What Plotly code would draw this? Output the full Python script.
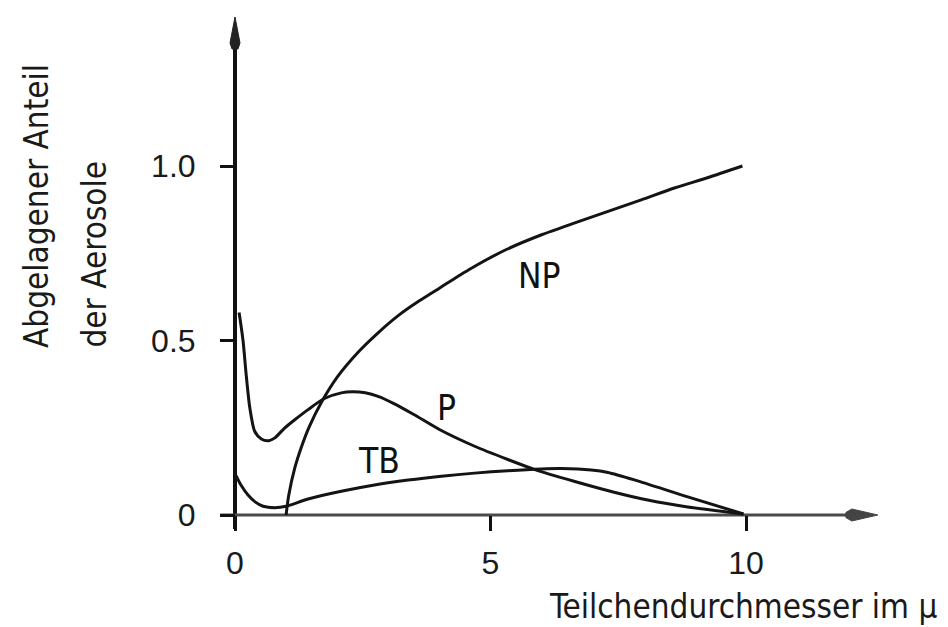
import plotly.graph_objects as go

# ---------------- data ----------------
NP_X = [1.00, 1.05, 1.17, 1.30, 1.45, 1.70, 2.00, 2.40, 2.80, 3.20, 3.60, 4.00, 4.60,
        5.30, 6.00, 6.65, 7.30, 7.95, 8.60, 9.26, 9.93]
NP_Y = [0.000, 0.055, 0.135, 0.195, 0.252, 0.325, 0.395, 0.465, 0.522, 0.572, 0.613,
        0.650, 0.705, 0.760, 0.803, 0.837, 0.870, 0.903, 0.937, 0.967, 1.000]

P_X = [0.08, 0.157, 0.22, 0.29, 0.385, 0.515, 0.66, 0.78, 0.97, 1.17, 1.43, 1.74, 2.08,
       2.30, 2.55, 2.80, 3.10, 3.50, 4.00, 4.69, 5.34, 5.87, 6.65, 7.40, 8.10, 8.86, 9.95]
P_Y = [0.580, 0.500, 0.400, 0.307, 0.240, 0.218, 0.213, 0.221, 0.249, 0.273, 0.302, 0.333,
       0.350, 0.353, 0.350, 0.340, 0.320, 0.288, 0.245, 0.197, 0.159, 0.130, 0.096, 0.066,
       0.042, 0.023, 0.003]

TB_X = [0.02, 0.12, 0.25, 0.40, 0.55, 0.78, 1.00, 1.43, 2.08, 2.73, 3.39, 4.04, 4.69,
        5.34, 5.99, 6.39, 6.97, 7.30, 7.83, 8.86, 9.95]
TB_Y = [0.113, 0.085, 0.058, 0.037, 0.025, 0.021, 0.025, 0.046, 0.068, 0.086, 0.100,
        0.111, 0.120, 0.127, 0.132, 0.133, 0.129, 0.122, 0.100, 0.052, 0.003]

CURVE_LABELS = ["NP", "P", "TB"]
LABEL_X = [5.96, 4.13, 2.82]
LABEL_Y = [0.684, 0.308, 0.156]

X_TICKS = [0, 5, 10]
X_TICKTEXT = ["0", "5", "10"]
Y_TICKS = [0, 0.5, 1.0]
Y_TICKTEXT = ["0", "0.5", "1.0"]

X_TITLE = "Teilchendurchmesser im μ"
Y_TITLE_LINES = ["Abgelagener Anteil", "der Aerosole"]

# axis extents (data units)
X_AXIS_LEFT, X_AXIS_TIP = -0.29, 12.58
Y_AXIS_BOTTOM, Y_AXIS_TIP = -0.04, 1.427

# ---------------- layout geometry ----------------
W, H = 948, 627
ORIGIN_PX = (227.0, 507.0)
PX_PER_X = 51.1
PX_PER_Y = 349.0
ML, MR, MT, MB = 200, 50, 4, 96
PLOT_W = W - ML - MR
PLOT_H = H - MT - MB
XMIN = -(ORIGIN_PX[0] - ML) / PX_PER_X
XMAX = XMIN + PLOT_W / PX_PER_X
YMAX = (ORIGIN_PX[1] - MT) / PX_PER_Y
YMIN = YMAX - PLOT_H / PX_PER_Y


def paper_x(px):
    return (px - ML) / PLOT_W


def paper_y(py):
    return (H - MB - py) / PLOT_H


INK = "#141414"
TICK_FONT = dict(family="Liberation Sans, Arial, sans-serif", size=32, color="#1a1a1a")
TITLE_FONT = dict(family="DejaVu Sans Condensed, DejaVu Sans, sans-serif", size=33, color="#1a1a1a")
LABEL_FONT = dict(family="DejaVu Sans Condensed, DejaVu Sans, sans-serif", size=35, color="#111111")

fig = go.Figure()
for xs, ys in [(NP_X, NP_Y), (P_X, P_Y), (TB_X, TB_Y)]:
    fig.add_trace(go.Scatter(x=xs, y=ys, mode="lines",
                             line=dict(color=INK, width=3, shape="spline", smoothing=0.7),
                             showlegend=False, hoverinfo="skip"))

shapes = [
    # y axis shaft
    dict(type="line", xref="x", yref="y", x0=0, x1=0, y0=Y_AXIS_BOTTOM, y1=Y_AXIS_TIP - 0.05,
         line=dict(color="#111111", width=4), layer="below"),
    # x axis shaft
    dict(type="line", xref="x", yref="y", x0=X_AXIS_LEFT, x1=X_AXIS_TIP - 0.4, y0=0, y1=0,
         line=dict(color="#4a4a4a", width=3), layer="below"),
    # y arrowhead
    dict(type="path", xref="x", yref="y", xsizemode="pixel", ysizemode="pixel",
         xanchor=0, yanchor=Y_AXIS_TIP,
         path="M0,0 L-5,-26 L-3,-32 L3,-32 L5,-26 Z",
         fillcolor="#222222", line=dict(color="#222222", width=1)),
    # x arrowhead
    dict(type="path", xref="x", yref="y", xsizemode="pixel", ysizemode="pixel",
         xanchor=X_AXIS_TIP, yanchor=0,
         path="M0,0 L-26,6 L-32,2.5 L-32,-2.5 L-26,-6 Z",
         fillcolor="#444444", line=dict(color="#444444", width=1)),
]

annotations = []
for t, lx, ly in zip(CURVE_LABELS, LABEL_X, LABEL_Y):
    annotations.append(dict(x=lx, y=ly, xref="x", yref="y", text=t, showarrow=False,
                            font=LABEL_FONT, xanchor="center", yanchor="middle"))

annotations.append(dict(x=paper_x(931), y=paper_y(599), xref="paper", yref="paper",
                        text=X_TITLE, showarrow=False, font=TITLE_FONT,
                        xanchor="right", yanchor="middle"))
for line_txt, cx in zip(Y_TITLE_LINES, [28, 86]):
    annotations.append(dict(x=paper_x(cx), y=paper_y(342), xref="paper", yref="paper",
                            text=line_txt, showarrow=False, font=TITLE_FONT, textangle=-90,
                            xanchor="center", yanchor="bottom"))

fig.update_layout(
    width=W, height=H,
    margin=dict(l=ML, r=MR, t=MT, b=MB, pad=0),
    paper_bgcolor="white", plot_bgcolor="white",
    xaxis=dict(range=[XMIN, XMAX], anchor="free", position=(0 - YMIN) / (YMAX - YMIN),
               showline=False, showgrid=False, zeroline=False,
               tickvals=X_TICKS, ticktext=X_TICKTEXT, ticks="outside", ticklen=15,
               tickwidth=3, tickcolor="#111111", tickfont=TICK_FONT, ticklabelstandoff=5),
    yaxis=dict(range=[YMIN, YMAX], anchor="free", position=(0 - XMIN) / (XMAX - XMIN),
               showline=False, showgrid=False, zeroline=False,
               tickvals=Y_TICKS, ticktext=Y_TICKTEXT, ticks="outside", ticklen=15,
               tickwidth=3, tickcolor="#111111", tickfont=TICK_FONT, ticklabelstandoff=18),
    shapes=shapes,
    annotations=annotations,
)

fig.write_html("out.html")
